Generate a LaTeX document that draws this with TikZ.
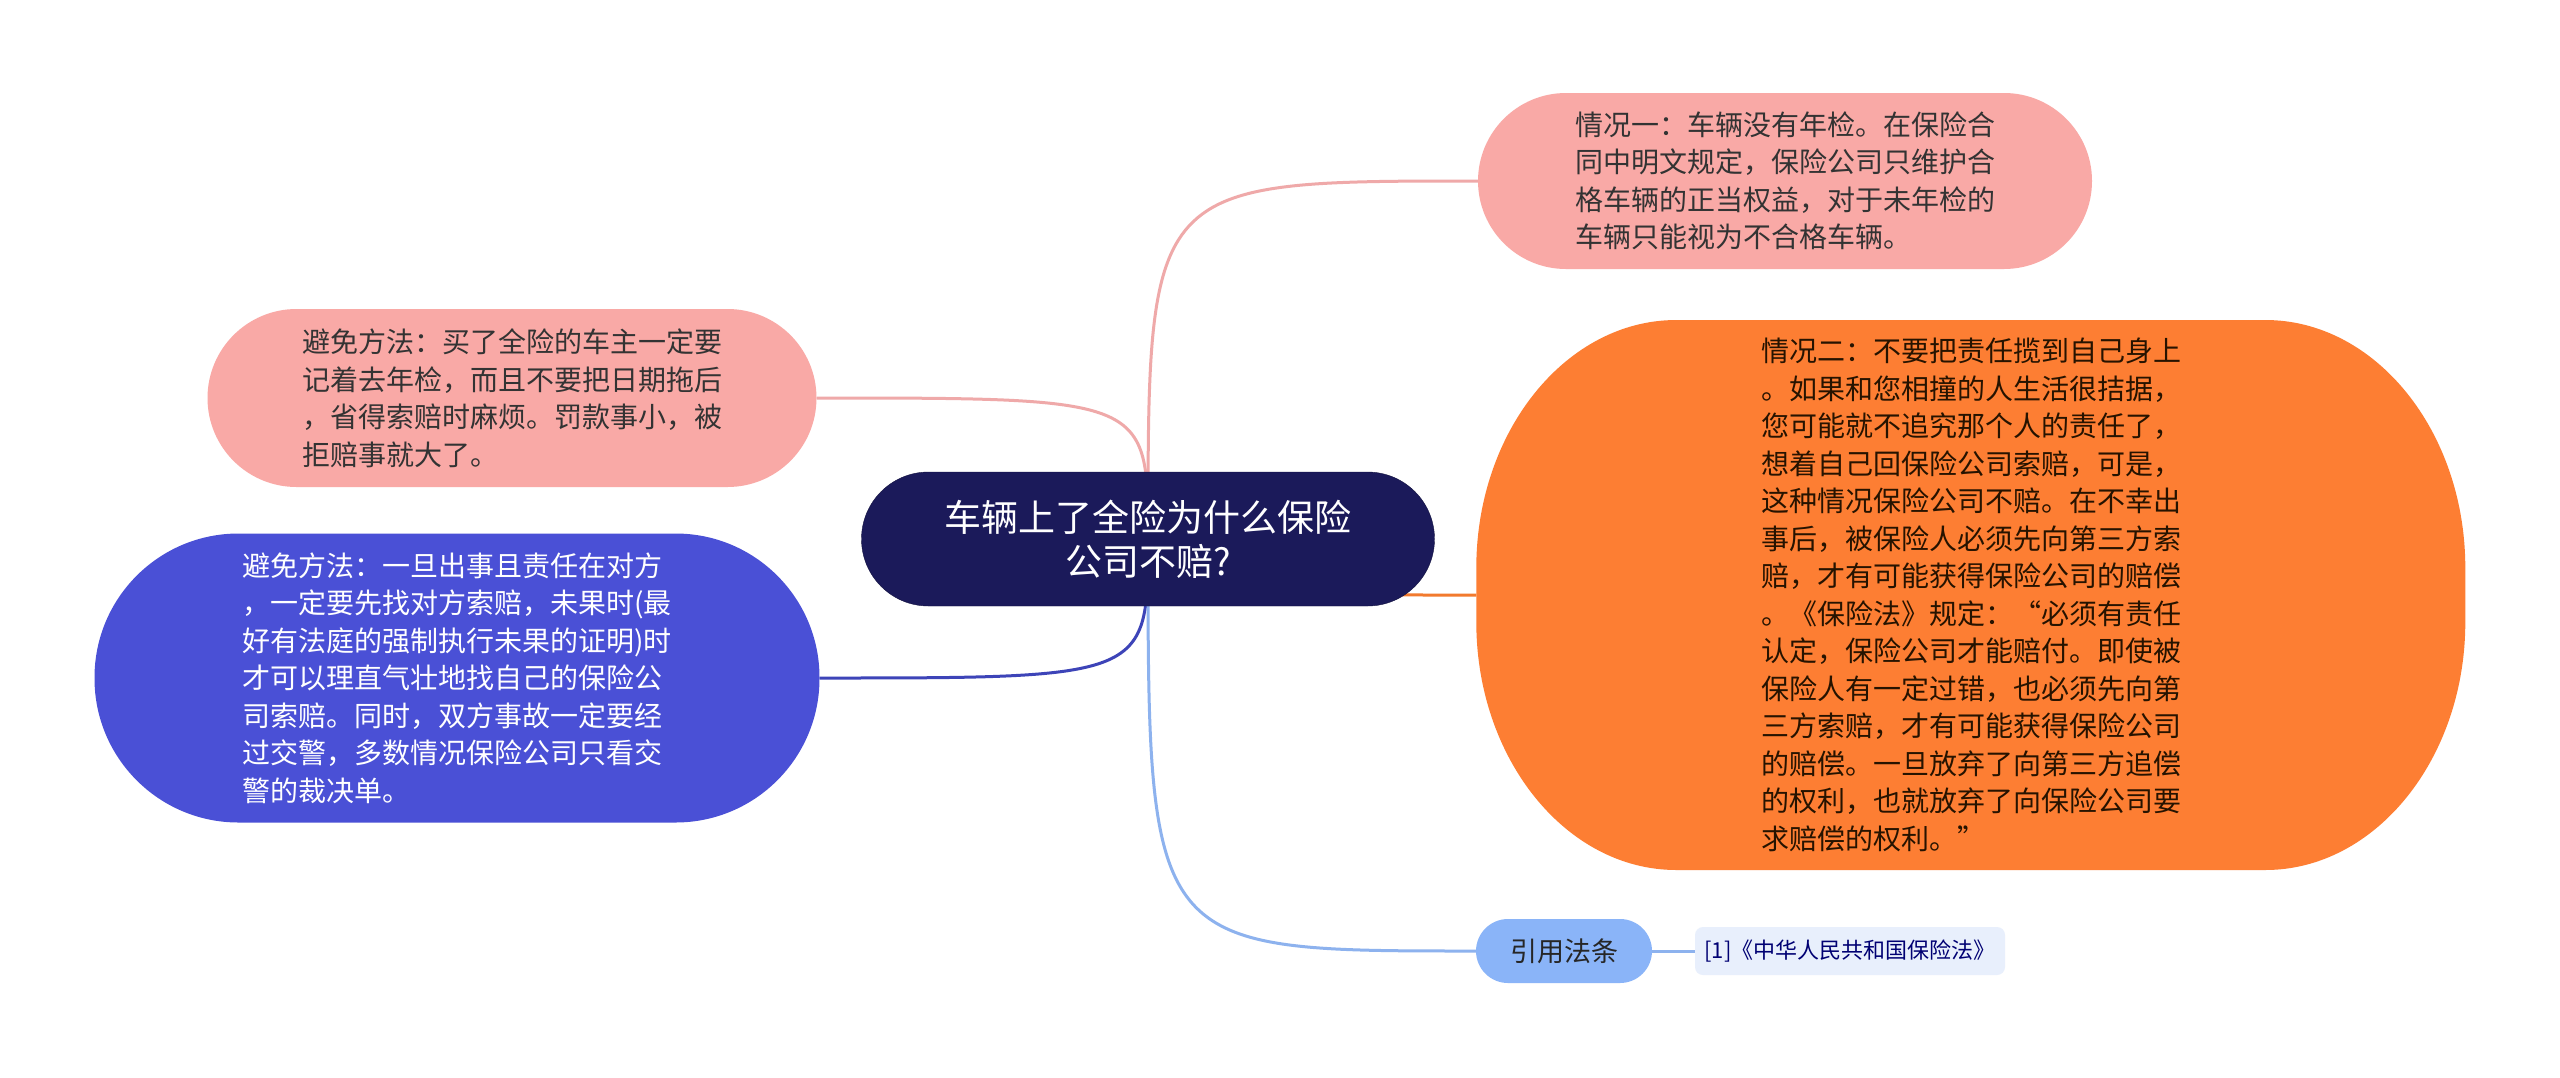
\documentclass[tikz,border=0pt]{standalone}
\usepackage{fontspec}
\newfontfamily\cjk{Noto Sans CJK SC}
\usetikzlibrary{backgrounds}

\definecolor{rootfill}{HTML}{1B1A5A}
\definecolor{pinkfill}{HTML}{F9A9A6}
\definecolor{orangefill}{HTML}{FD7E33}
\definecolor{bluefill}{HTML}{4A50D6}
\definecolor{citefill}{HTML}{8AB4F8}
\definecolor{reffill}{HTML}{E8EFFC}
\definecolor{pinkline}{HTML}{EFA9A9}
\definecolor{orangeline}{HTML}{F27A2E}
\definecolor{blueline}{HTML}{3D44B8}
\definecolor{lightline}{HTML}{8DB2EE}

\begin{document}
\begin{tikzpicture}[x=1pt,y=-1pt,
  topic/.style={inner sep=0pt, align=left, font=\cjk\fontsize{28}{37.5}\selectfont},
  link/.style={line width=3pt}]

\useasboundingbox (0,0) rectangle (2560,1077);

\node [inner sep=0pt, align=center, fill=rootfill, draw=rootfill!70!black, text=white,
  minimum width=573pt, minimum height=134pt, rounded corners=67pt,
  font=\cjk\fontsize{37}{44}\selectfont] (root) at (1148,539)
  {车辆上了全险为什么保险\\公司不赔?};

\node [topic, fill=pinkfill, text=black!80, minimum width=614pt, minimum height=176pt,
  rounded corners=88pt] (caseA) at (1785,181)
  {情况一：车辆没有年检。在保险合\\同中明文规定，保险公司只维护合\\格车辆的正当权益，对于未年检的\\车辆只能视为不合格车辆。};

\node [topic, text=black!85!orange, minimum width=989pt, minimum height=550pt] (caseB) at (1971,595)
  {情况二：不要把责任揽到自己身上\\
   。如果和您相撞的人生活很拮据，\\
   您可能就不追究那个人的责任了，\\
   想着自己回保险公司索赔，可是，\\
   这种情况保险公司不赔。在不幸出\\
   事后，被保险人必须先向第三方索\\
   赔，才有可能获得保险公司的赔偿\\
   。《保险法》规定：“必须有责任\\
   认定，保险公司才能赔付。即使被\\
   保险人有一定过错，也必须先向第\\
   三方索赔，才有可能获得保险公司\\
   的赔偿。一旦放弃了向第三方追偿\\
   的权利，也就放弃了向保险公司要\\
   求赔偿的权利。”};

\node [topic, fill=pinkfill, text=black!80, minimum width=609pt, minimum height=178pt,
  rounded corners=89pt] (tipA) at (512,398)
  {避免方法：买了全险的车主一定要\\记着去年检，而且不要把日期拖后\\，省得索赔时麻烦。罚款事小，被\\拒赔事就大了。};

\node [topic, fill=bluefill, text=white, minimum width=725pt, minimum height=289pt,
  rounded corners=144pt] (tipB) at (457,678)
  {避免方法：一旦出事且责任在对方\\，一定要先找对方索赔，未果时(最\\好有法庭的强制执行未果的证明)时\\才可以理直气壮地找自己的保险公\\司索赔。同时，双方事故一定要经\\过交警，多数情况保险公司只看交\\警的裁决单。};

\node [inner sep=0pt, fill=citefill, text=black!85, minimum width=176pt, minimum height=64pt,
  rounded corners=32pt, font=\cjk\fontsize{27}{32}\selectfont] (cite) at (1564,951) {引用法条};

\node [inner sep=0pt, fill=reffill, text=blue!45!black, minimum width=310pt, minimum height=48pt,
  rounded corners=8pt, font=\cjk\fontsize{22}{26}\selectfont] (ref) at (1850,951)
  {[1]《中华人民共和国保险法》};

\begin{scope}[on background layer]
\fill [white] (0,0) rectangle (2560,1077);
\draw [link, pinkline] (root.center) .. controls (root.center |- caseA.west) .. (caseA.west);
\draw [link, orangeline] (root.center) .. controls (root.center |- caseB.west) .. (caseB.west);
\draw [link, pinkline] (root.center) .. controls (root.center |- tipA.east) .. (tipA.east);
\draw [link, blueline] (root.center) .. controls (root.center |- tipB.east) .. (tipB.east);
\draw [link, lightline] (root.center) .. controls (root.center |- cite.west) .. (cite.west);
\draw [link, lightline] (cite.east) -- (ref.west);
% rounded blob behind the long text
\fill [orangefill] (caseB.west) -- ++(0,-27)
  .. controls +(0,-137) and +(-110,0) .. ++(200,-248) -- ++(589,0)
  .. controls +(110,0) and +(0,-137) .. ++(200,248) -- ++(0,54)
  .. controls +(0,137) and +(110,0) .. ++(-200,248) -- ++(-589,0)
  .. controls +(-110,0) and +(0,137) .. ++(-200,-248) -- cycle;
\end{scope}

\end{tikzpicture}
\end{document}
